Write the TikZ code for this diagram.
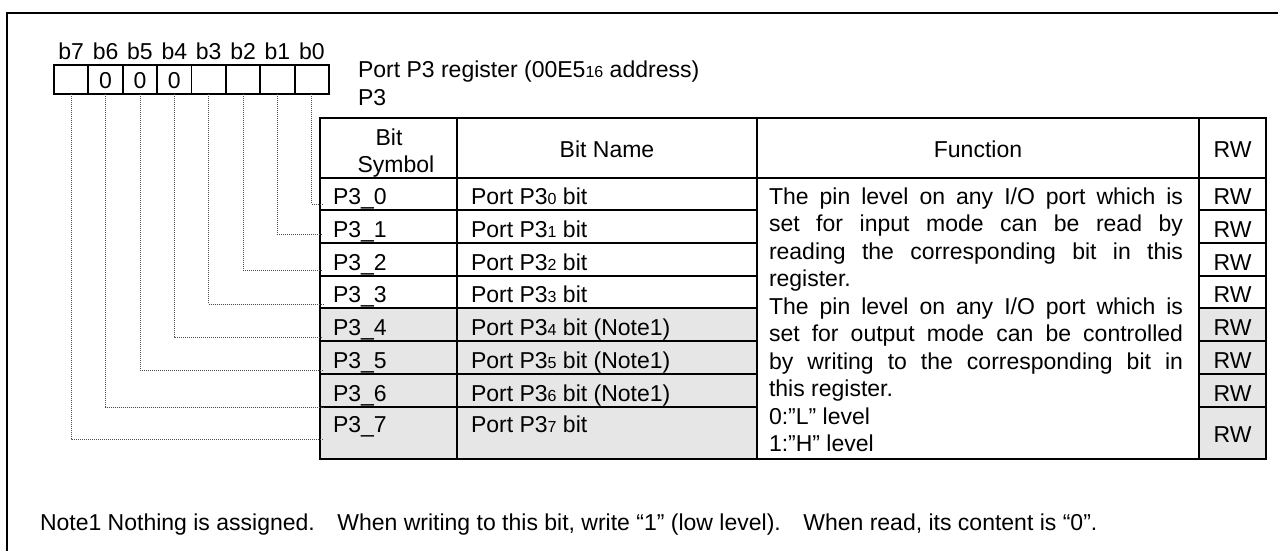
\documentclass[tikz,border=0pt]{standalone}
\usepackage{fontspec}
\setmainfont{Liberation Sans}
\definecolor{cellgray}{HTML}{E6E6E6}
\newcommand{\lowdig}[1]{{\fontsize{16}{16}\selectfont #1}}
\begin{document}
\begin{tikzpicture}[x=1pt,y=-1pt,
  every node/.style={inner sep=0pt, outer sep=0pt, font=\fontsize{23}{27.5}\selectfont},
  txt/.style={anchor=base west},
  ctr/.style={anchor=base},
  frameline/.style={line width=2.5pt},
  grid/.style={line width=2pt},
  thingrid/.style={line width=1.2pt},
  bitbox/.style={draw, line width=1.8pt, minimum width=34.375pt, minimum height=29pt, anchor=north west},
  leader/.style={line width=0.8pt, dash pattern=on 1pt off 1pt, draw=black!70}
]
\useasboundingbox (0,0) rectangle (1278,550);

% outer frame (open to the right and bottom)
\draw[frameline] (1282,13) -| (7,554);

% bit boxes b7..b0 with their labels
\foreach \i in {0,...,7} {
  \pgfmathsetmacro{\xl}{54+(7-\i)*34.375}
  \node[bitbox] (bit\i) at (\xl,65) {};
  \node[ctr] (blab\i) at (\xl+17.19,59) {b\i};
}
\foreach \i in {4,5,6} {
  \node[ctr] (zero\i) at ([yshift=-8.5pt]bit\i.center) {0};
}

% register title
\node[txt] (title) at (358,77) {Port P3 register (00E5\lowdig{16} address)};
\node[txt] (symb) at (358,105) {P3};

% shaded rows
\fill[cellgray] (320,308) rectangle (757,459);
\fill[cellgray] (1199,308) rectangle (1266,459);

% table grid
\draw[grid] (320,118) rectangle (1266,459);
\draw[grid] (457,118) -- (457,459);
\draw[grid] (757,118) -- (757,459);
\draw[grid] (1199,118) -- (1199,459);
\draw[grid] (320,178) -- (1266,178);
\foreach \yy in {210,243,276,341,374} {
  \draw[grid] (320,\yy) -- (757,\yy);
  \draw[grid] (1199,\yy) -- (1266,\yy);
}
\foreach \yy in {308,407} {
  \draw[thingrid] (320,\yy) -- (757,\yy);
  \draw[thingrid] (1199,\yy) -- (1266,\yy);
}

% header
\node[ctr] (hbit) at (389,145) {Bit};
\node[ctr] (hsym) at (396,172) {Symbol};
\node[ctr] (hname) at (607,157) {Bit Name};
\node[ctr] (hfun) at (978,157) {Function};
\node[ctr] (hrw) at (1232.5,157) {RW};

% rows
\foreach \i/\yb/\note in {0/204/,1/237/,2/270/,3/302/,4/335/ (Note1),5/368/ (Note1),6/401/ (Note1),7/432/} {
  \node[txt] (sym\i) at (333,\yb) {P3\_\i};
  \node[txt] (name\i) at (471,\yb) {Port P3\lowdig{\i} bit\note};
}
\foreach \i/\yb in {0/204,1/237,2/270,3/302,4/335,5/368,6/401,7/442} {
  \node[ctr] (rw\i) at (1232.5,\yb) {RW};
}

% function description
\node[txt] (f1) at (769,204)   {\makebox[414pt][s]{The pin level on any I/O port which is}};
\node[txt] (f2) at (769,231.5) {\makebox[414pt][s]{set for input mode can be read by}};
\node[txt] (f3) at (769,259)   {\makebox[414pt][s]{reading the corresponding bit in this}};
\node[txt] (f4) at (769,286.5) {register.};
\node[txt] (f5) at (769,314)   {\makebox[414pt][s]{The pin level on any I/O port which is}};
\node[txt] (f6) at (769,341.5) {\makebox[414pt][s]{set for output mode can be controlled}};
\node[txt] (f7) at (769,369)   {\makebox[414pt][s]{by writing to the corresponding bit in}};
\node[txt] (f8) at (769,396.5) {this register.};
\node[txt] (f9) at (769,424)   {0:”L” level};
\node[txt] (f10) at (769,451.5) {1:”H” level};

% leaders from bit boxes to symbols
\foreach \i/\yy in {0/204,1/234,2/270,3/304,4/337,5/370,6/407,7/439} {
  \coordinate (lead\i) at (323,\yy);
  \draw[leader] (bit\i.south) |- (lead\i);
}

% footnote
\node[txt] (note) at (40,530) {Note1 Nothing is assigned.\hspace{14pt} When writing to this bit, write “1” (low level).\hspace{14pt} When read, its content is “0”.};
\end{tikzpicture}
\end{document}
